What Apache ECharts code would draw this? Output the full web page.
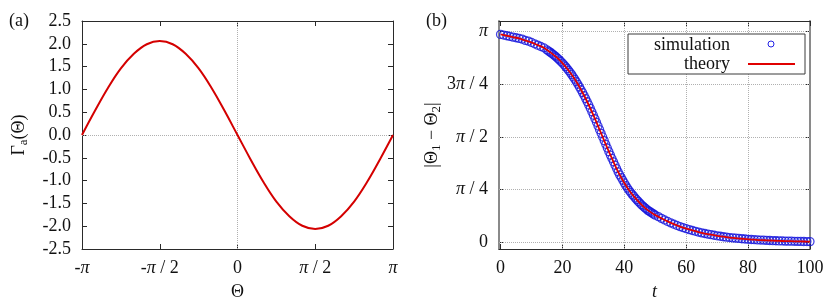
<!DOCTYPE html>
<html><head><meta charset="utf-8">
<script src="https://cdn.jsdelivr.net/npm/echarts@6/dist/echarts.min.js"></script>
<style>html,body{margin:0;padding:0;background:#fff}#c{width:830px;height:305px}</style>
</head><body><div id="c"></div>
<script>
// ---- Panel (a): Gamma_a(Theta), Theta in units of pi ----
const thetaOverPi = [-1, -0.9167, -0.8333, -0.75, -0.6667, -0.5833, -0.5, -0.4167, -0.3333, -0.25, -0.1667, -0.0833, 0,
  0.0833, 0.1667, 0.25, 0.3333, 0.4167, 0.5, 0.5833, 0.6667, 0.75, 0.8333, 0.9167, 1];
const gammaA = [0, 0.53, 1.03, 1.46, 1.78, 1.99, 2.06, 1.99, 1.78, 1.46, 1.03, 0.53, 0,
  -0.53, -1.03, -1.46, -1.78, -1.99, -2.06, -1.99, -1.78, -1.46, -1.03, -0.53, 0];
const leftXTicks = [-1, -0.5, 0, 0.5, 1];
const leftXLabels = ['-{p|π}', '-{p|π} / 2', '0', '{p|π} / 2', '{p|π}'];

// ---- Panel (b): |Theta1 - Theta2| vs t ----
const simT = [0,1,2,3,4,5,6,7,8,9,10,11,12,13,14,
  15,15.5,16,16.5,17,17.5,18,18.5,19,19.5,20,20.5,21,21.5,22,22.5,23,23.5,24,24.5,25,25.5,26,26.5,27,27.5,28,28.5,29,29.5,
  30,30.5,31,31.5,32,32.5,33,33.5,34,34.5,35,35.5,36,36.5,37,37.5,38,38.5,39,39.5,40,40.5,41,41.5,42,42.5,43,43.5,44,44.5,
  45,45.5,46,46.5,47,47.5,48,48.5,49,49.5,50,
  51,52,53,54,55,56,57,58,59,60,61,62,63,64,65,66,67,68,69,70,71,72,73,74,75,76,77,78,79,80,
  81,82,83,84,85,86,87,88,89,90,91,92,93,94,95,96,97,98,99,100];
const simV = [3.10,3.09,3.08,3.07,3.06,3.05,3.04,3.03,3.01,3.00,2.98,2.96,2.94,2.92,2.90,
  2.868,2.852,2.836,2.819,2.801,2.782,2.763,2.742,2.720,2.697,2.673,2.647,2.620,2.592,2.562,2.532,2.500,2.466,2.431,2.394,
  2.356,2.316,2.275,2.232,2.188,2.143,2.096,2.048,1.998,1.947,
  1.895,1.842,1.789,1.735,1.680,1.625,1.571,1.516,1.461,1.406,1.352,1.300,1.250,1.200,1.150,1.100,1.050,1.005,0.965,0.925,
  0.885,0.845,0.810,0.775,0.745,0.715,0.690,0.660,0.635,0.610,
  0.585,0.560,0.540,0.520,0.500,0.480,0.465,0.450,0.435,0.420,0.405,
  0.383,0.357,0.333,0.311,0.290,0.270,0.251,0.234,0.218,0.203,0.189,0.176,0.164,0.152,0.141,0.131,0.122,0.113,0.105,0.097,
  0.090,0.083,0.077,0.071,0.066,0.061,0.057,0.053,0.049,0.045,
  0.042,0.039,0.036,0.033,0.031,0.029,0.027,0.025,0.023,0.021,0.020,0.018,0.017,0.016,0.015,0.014,0.013,0.012,0.011,0.010];
const theoryT = [0,2,4,6,8,10,12,14,16,18,20,22,24,26,28,30,32,34,36,38,40,42,44,46,48,50,
  52,54,56,58,60,62,64,66,68,70,72,74,76,78,80,82,84,86,88,90,92,94,96,98,100];
const theoryV = [3.10,3.08,3.06,3.04,3.01,2.98,2.94,2.90,2.836,2.763,2.673,2.562,2.431,2.275,2.096,1.895,1.680,1.461,1.250,1.050,
  0.885,0.745,0.635,0.540,0.465,0.405,0.357,0.311,0.270,0.234,0.203,0.176,0.152,0.131,0.113,0.097,0.083,0.071,0.061,0.053,
  0.045,0.039,0.033,0.029,0.025,0.021,0.018,0.016,0.014,0.012,0.010];
const rightXTicks = [0, 20, 40, 60, 80, 100];
const rightXGrid = [20, 40, 60, 80];
const rightYTicks = [0, Math.PI / 4, Math.PI / 2, 3 * Math.PI / 4, Math.PI];
const rightYLabels = ['0', '{p|π} / 4', '{p|π} / 2', '3{p|π} / 4', '{p|π}'];

const FONT = 'Liberation Serif';
const FS = 18;
const rich = { p: { fontFamily: FONT, fontSize: FS, fontStyle: 'italic', color: '#111' } };
const lblBase = { fontFamily: FONT, fontSize: FS, color: '#111', rich: rich };
const gridLine = { type: 'dotted', color: '#b0b0b0', width: 1 };
function nearestLabel(v, ticks, labels) {
  let best = 0, d = Infinity;
  ticks.forEach((t, i) => { const dd = Math.abs(t - v); if (dd < d) { d = dd; best = i; } });
  return d < 1e-6 ? labels[best] : '';
}

const chart = echarts.init(document.getElementById('c'), null, { renderer: 'canvas' });
const darkLine = { show: true, onZero: false, lineStyle: { color: '#2a2a2a', width: 1 } };
const grayLine = { show: true, onZero: false, lineStyle: { color: '#8a8a8a', width: 2 } };
const tickIn = { show: true, inside: true, length: 5, lineStyle: { color: '#2a2a2a', width: 1 } };

chart.setOption({
  animation: false,
  backgroundColor: '#fff',
  grid: [
    { left: 82, top: 21, width: 311, height: 228, outerBoundsMode: 'none', containLabel: false },
    { left: 499, top: 21, width: 311, height: 228, outerBoundsMode: 'none', containLabel: false }
  ],
  xAxis: [
    { gridIndex: 0, type: 'value', min: -1, max: 1, interval: 0.5, position: 'bottom',
      axisLine: darkLine, axisTick: tickIn, splitLine: { show: false },
      axisLabel: Object.assign({ margin: 10, formatter: v => nearestLabel(v, leftXTicks, leftXLabels) }, lblBase),
      name: 'Θ', nameLocation: 'middle', nameGap: 34,
      nameTextStyle: { fontFamily: FONT, fontSize: FS, color: '#111' } },
    { gridIndex: 0, type: 'value', min: -1, max: 1, interval: 0.5, position: 'top',
      axisLine: darkLine, axisTick: tickIn, axisLabel: { show: false }, splitLine: { show: false } },
    { gridIndex: 1, type: 'value', min: -0.5, max: 100, position: 'bottom',
      axisLine: darkLine, axisTick: Object.assign({ customValues: rightXTicks }, tickIn), splitLine: { show: false },
      axisLabel: Object.assign({ margin: 10, customValues: rightXTicks, formatter: v => String(Math.round(v)) }, lblBase),
      name: 't', nameLocation: 'middle', nameGap: 34,
      nameTextStyle: { fontFamily: FONT, fontSize: FS, fontStyle: 'italic', color: '#111' } },
    { gridIndex: 1, type: 'value', min: -0.5, max: 100, position: 'top',
      axisLine: darkLine, axisTick: Object.assign({ customValues: rightXTicks }, tickIn),
      axisLabel: { show: false }, splitLine: { show: false } }
  ],
  yAxis: [
    { gridIndex: 0, type: 'value', min: -2.5, max: 2.5, interval: 0.5, position: 'left',
      axisLine: darkLine, axisTick: tickIn, splitLine: { show: false },
      axisLabel: Object.assign({ margin: 11, formatter: v => v.toFixed(1) }, lblBase),
      name: 'Γ{s|a}(Θ)', nameLocation: 'middle', nameGap: 52, nameRotate: 90,
      nameTextStyle: { fontFamily: FONT, fontSize: FS, color: '#111',
        rich: { s: { fontFamily: FONT, fontSize: 13, color: '#111', padding: [8, 0, 0, 0] } } } },
    { gridIndex: 0, type: 'value', min: -2.5, max: 2.5, interval: 0.5, position: 'right',
      axisLine: darkLine, axisTick: tickIn, axisLabel: { show: false }, splitLine: { show: false } },
    { gridIndex: 1, type: 'value', min: -0.1, max: 3.3, position: 'left',
      axisLine: grayLine,
      axisTick: Object.assign({ customValues: rightYTicks }, tickIn), splitLine: { show: false },
      axisLabel: Object.assign({ margin: 11, customValues: rightYTicks,
        formatter: v => nearestLabel(v, rightYTicks, rightYLabels) }, lblBase),
      name: '|Θ{s|1} − Θ{s|2}|', nameLocation: 'middle', nameGap: 56, nameRotate: 90,
      nameTextStyle: { fontFamily: FONT, fontSize: FS, color: '#111',
        rich: { s: { fontFamily: FONT, fontSize: 13, color: '#111', padding: [8, 0, 0, 0] } } } },
    { gridIndex: 1, type: 'value', min: -0.1, max: 3.3, position: 'right',
      axisLine: grayLine,
      axisTick: Object.assign({ customValues: rightYTicks }, tickIn), axisLabel: { show: false }, splitLine: { show: false } }
  ],
  series: [
    { name: 'Gamma', type: 'line', xAxisIndex: 0, yAxisIndex: 0, smooth: 0.4, showSymbol: false, symbol: 'none',
      data: thetaOverPi.map((x, i) => [x, gammaA[i]]),
      lineStyle: { color: '#d40000', width: 2 }, z: 5,
      markLine: { silent: true, symbol: 'none', label: { show: false }, lineStyle: gridLine, animation: false,
        data: [{ xAxis: 0 }, { yAxis: 0 }] } },
    { name: 'simulation', type: 'scatter', xAxisIndex: 2, yAxisIndex: 2, symbol: 'circle', symbolSize: 8,
      data: simT.map((t, i) => [t, simV[i]]),
      itemStyle: { color: 'rgba(0,0,0,0)', borderColor: '#1414dc', borderWidth: 1.3 }, z: 4,
      markLine: { silent: true, symbol: 'none', label: { show: false }, lineStyle: gridLine, animation: false, z: 1,
        data: rightXGrid.map(v => ({ xAxis: v })).concat(rightYTicks.map(v => ({ yAxis: v }))) } },
    { name: 'theory', type: 'line', xAxisIndex: 2, yAxisIndex: 2, smooth: 0.3, showSymbol: false, symbol: 'none',
      data: theoryT.map((t, i) => [t, theoryV[i]]),
      lineStyle: { color: '#e00000', width: 1.8 }, z: 6 }
  ],
  graphic: [
    { type: 'text', left: 9, top: 12, style: { text: '(a)', font: '18px "Liberation Serif"', fill: '#111' } },
    { type: 'text', left: 426, top: 12, style: { text: '(b)', font: '18px "Liberation Serif"', fill: '#111' } },
    { type: 'rect', z: 50, shape: { x: 628, y: 34, width: 177, height: 40 },
      style: { fill: '#fff', stroke: '#3a3a3a', lineWidth: 1 } },
    { type: 'text', z: 51, x: 730, y: 45, style: { text: 'simulation', font: '18px "Liberation Serif"', fill: '#111',
      textAlign: 'right', textVerticalAlign: 'middle' } },
    { type: 'text', z: 51, x: 730, y: 64, style: { text: 'theory', font: '18px "Liberation Serif"', fill: '#111',
      textAlign: 'right', textVerticalAlign: 'middle' } },
    { type: 'circle', z: 51, shape: { cx: 771, cy: 44, r: 3 }, style: { fill: 'none', stroke: '#2323e6', lineWidth: 1 } },
    { type: 'line', z: 51, shape: { x1: 748, y1: 64, x2: 795, y2: 64 }, style: { stroke: '#e00000', lineWidth: 2 } }
  ]
});
</script></body></html>
